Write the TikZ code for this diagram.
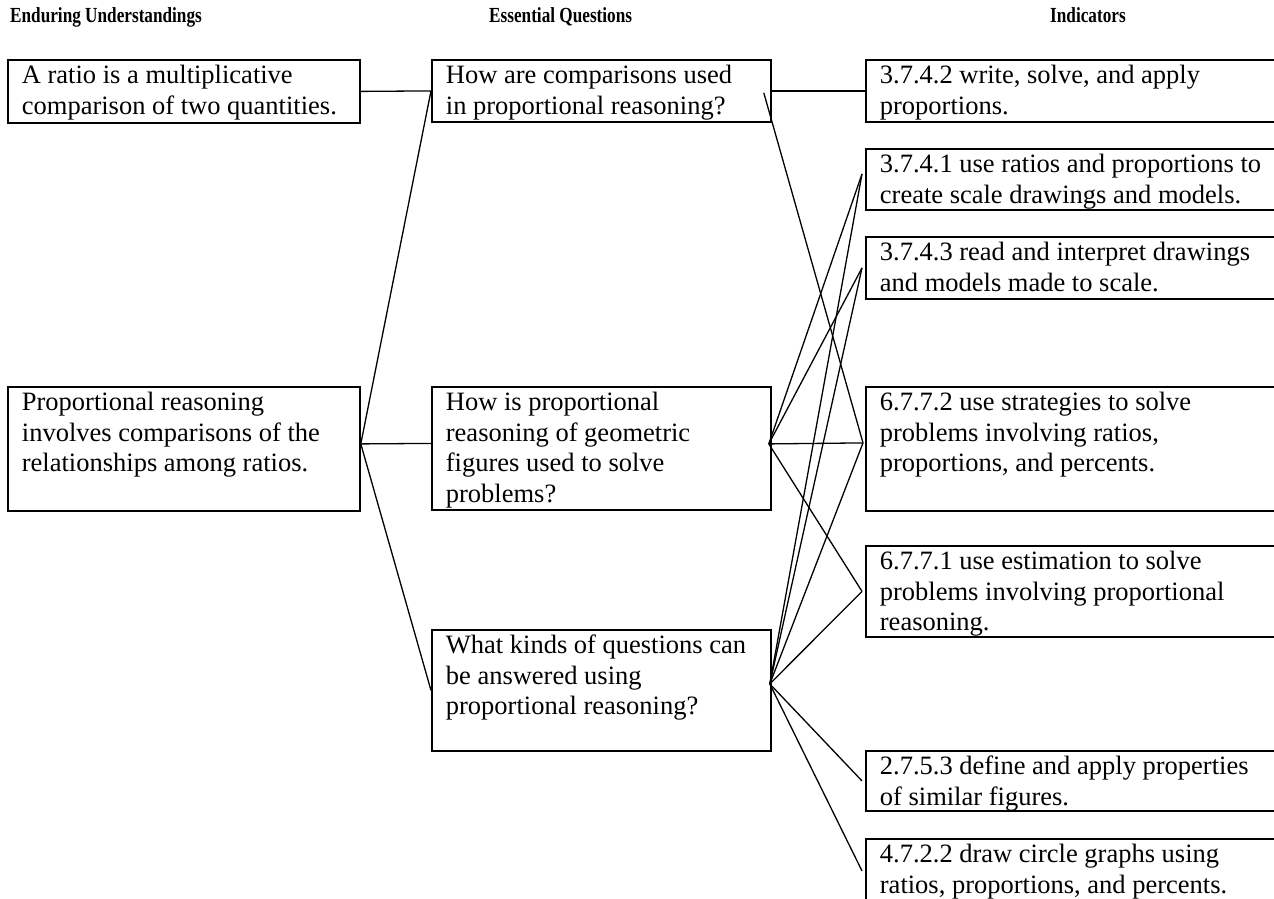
\documentclass[tikz,border=0pt]{standalone}
\usepackage{fontspec}
\setmainfont{Liberation Serif}
\newcommand\bxtext[3]{\parbox[t][#2][t]{#1}{\raggedright\leftskip=14pt\fontsize{26.5}{30.5}\selectfont\rule{0pt}{24pt}#3}}
\newcommand\hdtext[1]{\scalebox{0.8}[1]{#1}}
\begin{document}
\begin{tikzpicture}[x=1pt,y=-1pt,
  box/.style={draw, line width=1.8pt, inner sep=0pt, anchor=north west},
  hdr/.style={anchor=base west, inner sep=0pt, font=\fontsize{21.5}{24}\selectfont\bfseries},
  conn/.style={line width=1.3pt}]
\useasboundingbox (0,0) rectangle (1274,898);
% headers
\node[hdr] (h1) at (10,22) {\hdtext{Enduring Understandings}};
\node[hdr] (h2) at (489,22) {\hdtext{Essential Questions}};
\node[hdr] (h3) at (1050,22) {\hdtext{Indicators}};
% enduring understandings
\node[box] (EU1) at (7,59) {\bxtext{352pt}{63pt}{A ratio is a multiplicative\\comparison of two quantities.}};
\node[box] (EU2) at (7,386) {\bxtext{352pt}{124pt}{Proportional reasoning\\involves comparisons of the\\relationships among ratios.}};
% essential questions
\node[box] (EQ1) at (431,59) {\bxtext{339pt}{62pt}{How are comparisons used\\in proportional reasoning?}};
\node[box] (EQ2) at (431,386) {\bxtext{339pt}{123pt}{How is proportional\\reasoning of geometric\\figures used to solve\\problems?}};
\node[box] (EQ3) at (431,629) {\bxtext{339pt}{121pt}{What kinds of questions can\\be answered using\\proportional reasoning?}};
% indicators
\node[box] (I1) at (865,59) {\bxtext{440pt}{62pt}{3.7.4.2 write, solve, and apply\\proportions.}};
\node[box] (I2) at (865,148) {\bxtext{440pt}{61pt}{3.7.4.1 use ratios and proportions to\\create scale drawings and models.}};
\node[box] (I3) at (865,236) {\bxtext{440pt}{62pt}{3.7.4.3 read and interpret drawings\\and models made to scale.}};
\node[box] (I4) at (865,386) {\bxtext{440pt}{124pt}{6.7.7.2 use strategies to solve\\problems involving ratios,\\proportions, and percents.}};
\node[box] (I5) at (865,545) {\bxtext{440pt}{91pt}{6.7.7.1 use estimation to solve\\problems involving proportional\\reasoning.}};
\node[box] (I6) at (865,750) {\bxtext{440pt}{60pt}{2.7.5.3 define and apply properties\\of similar figures.}};
\node[box] (I7) at (865,838) {\bxtext{440pt}{72pt}{4.7.2.2 draw circle graphs using\\ratios, proportions, and percents.}};
% connection points
\coordinate (a2) at ([yshift=5pt]EU2.east);
\coordinate (b2l) at ([yshift=5pt]EQ2.west);
\coordinate (b1r) at ([xshift=-8pt,yshift=-2pt]EQ1.east);
\coordinate (b2r) at ([xshift=-3pt,yshift=4.5pt]EQ2.east);
\coordinate (b3r) at ([xshift=-2pt,yshift=6.5pt]EQ3.east);
\coordinate (c2) at ([xshift=-3pt,yshift=5.5pt]I2.west);
\coordinate (c3) at ([xshift=-3pt]I3.west);
\coordinate (c4) at ([xshift=-2pt,yshift=6pt]I4.west);
\coordinate (c5) at ([xshift=-3pt]I5.west);
\coordinate (c6) at ([xshift=-3pt]I6.west);
\coordinate (c7) at ([xshift=-3pt,yshift=4pt]I7.west);
% connectors
\draw[conn] (EU1.east) -- (EQ1.west);
\draw[conn] (a2) -- (EQ1.west);
\draw[conn] (a2) -- (b2l);
\draw[conn] (a2) -- (EQ3.west);
\draw[conn] (EQ1.east) -- (I1.west);
\draw[conn] (b1r) -- (c4);
\draw[conn] (b2r) -- (c2);
\draw[conn] (b2r) -- (c3);
\draw[conn] (b2r) -- (c4);
\draw[conn] (b2r) -- (c5);
\draw[conn] (b3r) -- (c2);
\draw[conn] (b3r) -- (c3);
\draw[conn] (b3r) -- (c4);
\draw[conn] (b3r) -- (c5);
\draw[conn] (b3r) -- (c6);
\draw[conn] (b3r) -- (c7);
\end{tikzpicture}
\end{document}
